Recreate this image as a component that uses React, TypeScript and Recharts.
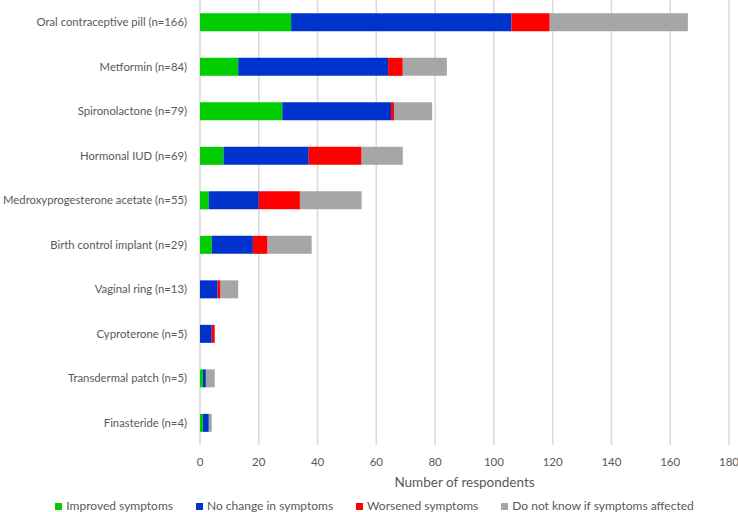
import {
  BarChart,
  Bar,
  XAxis,
  YAxis,
  CartesianGrid,
  Legend,
} from "recharts";

// medications, top to bottom
const medications = [
  "Oral contraceptive pill (n=166)",
  "Metformin (n=84)",
  "Spironolactone (n=79)",
  "Hormonal IUD (n=69)",
  "Medroxyprogesterone acetate (n=55)",
  "Birth control implant (n=29)",
  "Vaginal ring (n=13)",
  "Cyproterone (n=5)",
  "Transdermal patch (n=5)",
  "Finasteride (n=4)",
];

const improved = [31, 13, 28, 8, 3, 4, 0, 0, 1, 1];
const noChange = [75, 51, 37, 29, 17, 14, 6, 4, 1, 2];
const worsened = [13, 5, 1, 18, 14, 5, 1, 1, 0, 0];
const dontKnow = [47, 15, 13, 14, 21, 15, 6, 0, 3, 1];

const xTicks = [0, 20, 40, 60, 80, 100, 120, 140, 160, 180];

const seriesNames = [
  "Improved symptoms",
  "No change in symptoms",
  "Worsened symptoms",
  "Do not know if symptoms affected",
];
const seriesColors = ["#00cc00", "#0033cc", "#ff0000", "#a6a6a6"];

const FONT = "Lato, 'Liberation Sans', sans-serif";
const TEXT = "#595959";

const data = medications.map((name, i) => ({
  name,
  improved: improved[i],
  noChange: noChange[i],
  worsened: worsened[i],
  dontKnow: dontKnow[i],
}));

const keys = ["improved", "noChange", "worsened", "dontKnow"];

// plain single-line tick so long names don't wrap
function MedTick({ x, y, payload }: any) {
  return (
    <text
      x={x}
      y={y}
      dy="0.35em"
      textAnchor="end"
      fill={TEXT}
      fontSize={11.3}
      fontFamily={FONT}
    >
      {payload.value}
    </text>
  );
}

function LegendRow() {
  return (
    <div
      style={{
        display: "flex",
        justifyContent: "center",
        gap: 23,
        paddingLeft: 20,
        paddingTop: 1,
        fontSize: 12,
        lineHeight: "14px",
        fontFamily: FONT,
        color: TEXT,
        whiteSpace: "nowrap",
      }}
    >
      {seriesNames.map((n, i) => (
        <span key={n} style={{ display: "flex", alignItems: "center" }}>
          <span
            style={{
              width: 7,
              height: 7,
              background: seriesColors[i],
              marginRight: 4,
              display: "inline-block",
            }}
          />
          {n}
        </span>
      ))}
    </div>
  );
}

export default function App() {
  return (
    <div style={{ position: "absolute", left: 0, top: 0, background: "#fff", fontFamily: FONT }}>
      <BarChart
        width={738}
        height={512}
        data={data}
        layout="vertical"
        margin={{ top: 0, right: 9, bottom: 0, left: 0 }}
        barCategoryGap="30%"
      >
        <CartesianGrid horizontal={false} stroke="#d9d9d9" strokeWidth={1.5} />
        <XAxis
          type="number"
          domain={[0, 180]}
          ticks={xTicks}
          axisLine={false}
          tickLine={false}
          tickMargin={7}
          height={53}
          tick={{ fill: TEXT, fontSize: 11.5, fontFamily: FONT }}
          label={{
            value: "Number of respondents",
            position: "insideBottom",
            offset: 11,
            fill: TEXT,
            fontSize: 13.5,
            fontFamily: FONT,
          }}
        />
        <YAxis
          type="category"
          dataKey="name"
          width={200}
          axisLine={false}
          tickLine={false}
          tickMargin={7}
          interval={0}
          tick={<MedTick />}
        />
        <Legend verticalAlign="bottom" height={14} content={<LegendRow />} />
        {keys.map((k, i) => (
          <Bar
            key={k}
            dataKey={k}
            name={seriesNames[i]}
            stackId="a"
            fill={seriesColors[i]}
            isAnimationActive={false}
          />
        ))}
      </BarChart>
    </div>
  );
}
